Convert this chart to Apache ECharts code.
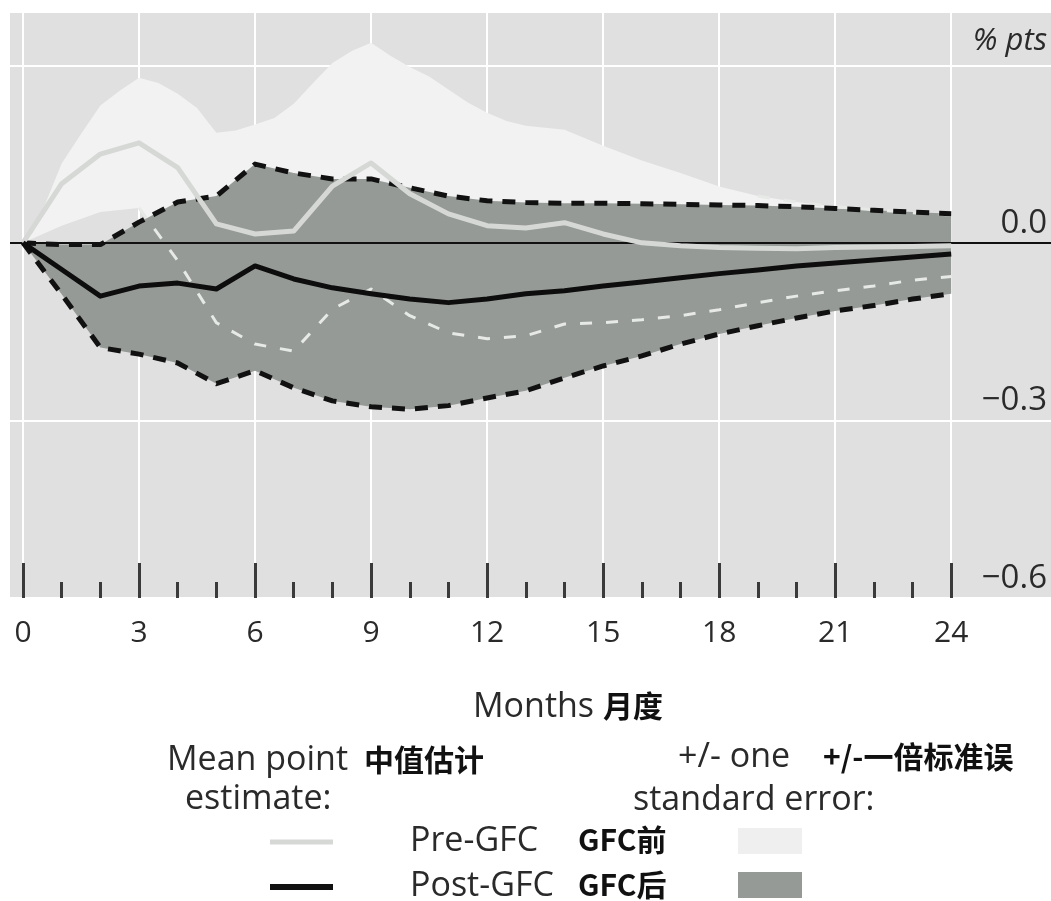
<!DOCTYPE html>
<html>
<head>
<meta charset="utf-8">
<script src="https://cdn.jsdelivr.net/npm/echarts@6/dist/echarts.min.js"></script>
<style>
  html, body { margin: 0; padding: 0; background: #ffffff; }
  #chart { width: 1051px; height: 901px; }
</style>
</head>
<body>
<div id="chart"></div>
<script>
// Horizon in months after the shock
const months = [0, 1, 2, 3, 4, 5, 6, 7, 8, 9, 10, 11, 12, 13, 14, 15, 16, 17, 18, 19, 20, 21, 22, 23, 24];
const majorMonths = [0, 3, 6, 9, 12, 15, 18, 21, 24];

// Mean point estimates (% pts)
const preMean  = [0, 0.10, 0.15, 0.169, 0.127, 0.032, 0.015, 0.02, 0.096, 0.135, 0.083, 0.049, 0.029, 0.025, 0.034, 0.015, 0.0, -0.005, -0.008, -0.009, -0.01, -0.008, -0.007, -0.006, -0.005];
const postMean = [0, -0.045, -0.09, -0.073, -0.068, -0.078, -0.039, -0.061, -0.076, -0.086, -0.095, -0.101, -0.095, -0.086, -0.081, -0.073, -0.066, -0.059, -0.052, -0.046, -0.039, -0.034, -0.029, -0.024, -0.019];

// +/- one standard error bands
const postUpper = [0, -0.003, -0.003, 0.035, 0.069, 0.079, 0.133, 0.118, 0.108, 0.108, 0.093, 0.079, 0.071, 0.068, 0.067, 0.067, 0.066, 0.065, 0.064, 0.063, 0.061, 0.058, 0.055, 0.052, 0.049];
const postLower = [0, -0.087, -0.177, -0.188, -0.203, -0.238, -0.216, -0.245, -0.267, -0.277, -0.281, -0.275, -0.262, -0.25, -0.228, -0.208, -0.191, -0.171, -0.154, -0.14, -0.127, -0.115, -0.106, -0.095, -0.086];
const preLower  = [0, 0.029, 0.052, 0.059, -0.03, -0.135, -0.171, -0.183, -0.112, -0.078, -0.123, -0.152, -0.162, -0.157, -0.137, -0.135, -0.13, -0.123, -0.113, -0.101, -0.09, -0.081, -0.073, -0.063, -0.057];
const preUpperMonths = [0, 0.25, 0.5, 1, 1.5, 2, 2.5, 3, 3.5, 4, 4.5, 5, 5.5, 6, 6.5, 7, 7.5, 8, 8.5, 9, 9.5, 10, 10.5, 11, 11.5, 12, 12.5, 13, 14, 15, 16, 17, 18, 19, 20, 21, 22, 23, 24];
const preUpper       = [0, 0.017, 0.054, 0.134, 0.184, 0.232, 0.257, 0.279, 0.27, 0.252, 0.228, 0.186, 0.19, 0.2, 0.211, 0.235, 0.27, 0.304, 0.324, 0.338, 0.316, 0.297, 0.281, 0.259, 0.237, 0.22, 0.206, 0.198, 0.191, 0.164, 0.139, 0.118, 0.095, 0.079, 0.069, 0.061, 0.056, 0.051, 0.047];

// Value-axis labels
const yLabels = { '0.3': '{u|% pts}', '0': '0.0', '-0.3': '\u22120.3', '-0.6': '\u22120.6' };

const X_MIN = -0.336, X_MAX = 26.58;
const EN_FONT = 'Open Sans';
const EN_WEIGHT = 400;
const CJK_FONT = 'Noto Sans CJK SC';
const EN_CSS = EN_WEIGHT + ' 34px "' + EN_FONT + '"';
const CJK_CSS = 'bold 30px "' + CJK_FONT + '"';

const pairs = (xs, ys) => xs.map((x, i) => [x, ys[i]]);

function bandSeries(xsUp, up, xsLo, lo, color, z) {
  return {
    type: 'custom',
    z: z,
    silent: true,
    data: [[0, 0]],
    renderItem: function (params, api) {
      const top = xsUp.map((x, i) => api.coord([x, up[i]]));
      const bottom = xsLo.map((x, i) => api.coord([x, lo[i]])).reverse();
      return {
        type: 'polygon',
        shape: { points: top.concat(bottom) },
        style: { fill: color }
      };
    }
  };
}

function lineSeries(data, color, width, type, z, extra) {
  return Object.assign({
    type: 'line',
    z: z,
    data: data,
    showSymbol: false,
    symbol: 'none',
    silent: true,
    lineStyle: { color: color, width: width, type: type, cap: 'butt', join: 'round' }
  }, extra || {});
}

function txt(x, y, text, font, fill) {
  return { type: 'text', x: x, y: y, style: { text: text, font: font, fill: fill, verticalAlign: 'middle' } };
}

const preLowerHidden = pairs(months, preLower).filter(p => p[0] >= 3);
const preUpperHidden = pairs(preUpperMonths, preUpper).filter(p => p[0] >= 19);

const chart = echarts.init(document.getElementById('chart'), null, { renderer: 'canvas' });

const option = {
  animation: false,
  backgroundColor: '#ffffff',
  grid: { left: 10, right: 0, top: 12, bottom: 303, show: true, backgroundColor: '#e0e0e0', borderWidth: 0, containLabel: false },
  xAxis: [
    {
      type: 'value', min: X_MIN, max: X_MAX, position: 'bottom',
      axisLine: { show: false, onZero: false },
      axisTick: { show: true, inside: true, length: 35, customValues: majorMonths, lineStyle: { color: '#3a3a3a', width: 3 } },
      axisLabel: { customValues: majorMonths, margin: 20, fontFamily: EN_FONT, fontWeight: EN_WEIGHT, fontSize: 30, color: '#2a2a2a' },
      splitLine: { show: true, lineStyle: { color: '#ffffff', width: 2 } }
    },
    {
      type: 'value', min: X_MIN, max: X_MAX, position: 'bottom',
      axisLine: { show: false, onZero: false },
      axisTick: { show: true, inside: true, length: 16, customValues: months, lineStyle: { color: '#3a3a3a', width: 3 } },
      axisLabel: { show: false },
      splitLine: { show: false }
    }
  ],
  yAxis: {
    type: 'value', min: -0.6, max: 0.39, interval: 0.3, position: 'right',
    axisLine: { show: false },
    axisTick: { show: false },
    splitLine: { show: true, lineStyle: { color: '#ffffff', width: 2 } },
    axisLabel: {
      inside: true, margin: 4,
      fontFamily: EN_FONT, fontWeight: EN_WEIGHT, fontSize: 33, color: '#2a2a2a',
      verticalAlign: 'bottom', lineHeight: 33, padding: [0, 0, 3, 0],
      formatter: function (v) {
        const k = String(Math.round(v * 10) / 10);
        return yLabels[k] || '';
      },
      rich: {
        u: { fontFamily: EN_FONT, fontWeight: EN_WEIGHT, fontSize: 31, fontStyle: 'italic', color: '#2a2a2a', padding: [0, 0, 9, 0] }
      }
    }
  },
  series: [
    bandSeries(preUpperMonths, preUpper, months, preLower, '#f1f2f1', 2),
    bandSeries(months, postUpper, months, postLower, '#959a96', 3),
    lineSeries(preLowerHidden, '#e6e9e6', 3, [12, 14], 4),
    lineSeries(preUpperHidden, '#e6e9e6', 3, [12, 14], 4),
    lineSeries(pairs(months, postUpper), '#111111', 5, [13, 10], 5, {
      markLine: {
        silent: true, symbol: 'none', label: { show: false },
        lineStyle: { color: '#111111', width: 2, type: 'solid' },
        data: [{ yAxis: 0 }]
      }
    }),
    lineSeries(pairs(months, postLower), '#111111', 5, [13, 10], 5),
    lineSeries(pairs(months, preMean), '#d6d8d6', 5, 'solid', 6),
    lineSeries(pairs(months, postMean), '#0d0d0d', 5, 'solid', 7)
  ],
  graphic: [
    // axis title
    txt(473, 707, 'Months', EN_CSS, '#2a2a2a'),
    txt(603, 706, '月度', CJK_CSS, '#111111'),
    // key headings
    txt(167, 760, 'Mean point', EN_CSS, '#2a2a2a'),
    txt(364, 760, '中值估计', CJK_CSS, '#111111'),
    txt(185, 799, 'estimate:', EN_CSS, '#2a2a2a'),
    txt(678, 757, '+/- one', EN_CSS, '#2a2a2a'),
    txt(823, 757, '+/-一倍标准误', CJK_CSS, '#111111'),
    txt(633, 800, 'standard error:', EN_CSS, '#2a2a2a'),
    // key rows
    { type: 'line', shape: { x1: 270, y1: 842, x2: 333, y2: 842 }, style: { stroke: '#d6d8d6', lineWidth: 5 } },
    txt(410, 841, 'Pre-GFC', EN_CSS, '#2a2a2a'),
    txt(578, 840, 'GFC前', CJK_CSS, '#111111'),
    { type: 'rect', shape: { x: 738, y: 828, width: 64, height: 26 }, style: { fill: '#eeefee' } },
    { type: 'line', shape: { x1: 270, y1: 887, x2: 333, y2: 887 }, style: { stroke: '#111111', lineWidth: 6 } },
    txt(410, 886, 'Post-GFC', EN_CSS, '#2a2a2a'),
    txt(578, 885, 'GFC后', CJK_CSS, '#111111'),
    { type: 'rect', shape: { x: 738, y: 872, width: 64, height: 26 }, style: { fill: '#959a96' } }
  ]
};

chart.setOption(option);
</script>
</body>
</html>
